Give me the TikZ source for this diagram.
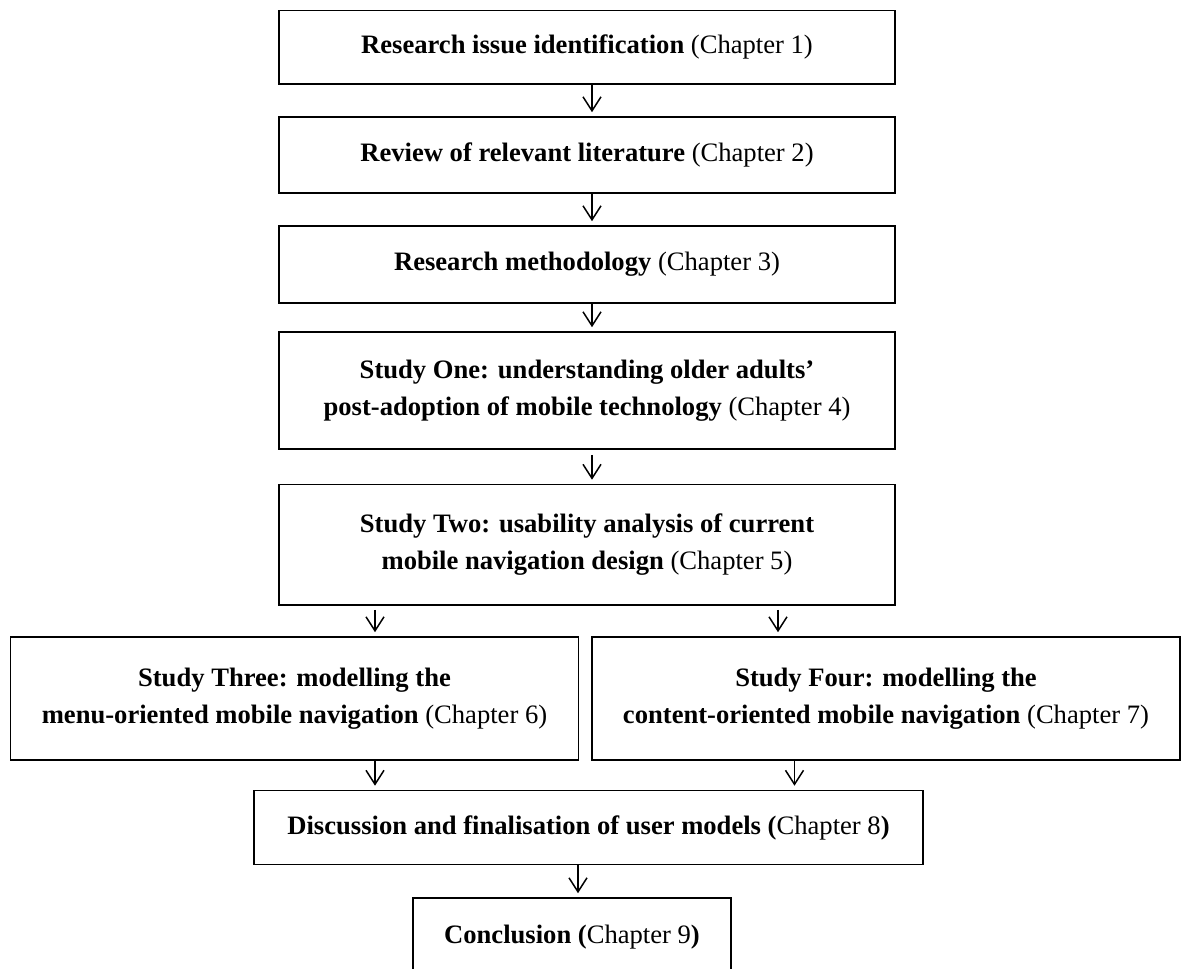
\documentclass[tikz,border=0pt]{standalone}
\usepackage{fontspec}
\setmainfont{Liberation Serif}
\usetikzlibrary{arrows.meta}

\tikzset{
  stagebox/.style={draw=black, line width=1.6pt, rectangle, inner sep=0pt,
    align=center, font=\fontsize{26.6}{37.5}\selectfont},
  flowarrow/.style={line width=1.5pt,
    -{Straight Barb[length=14pt,width=18pt,line width=1.5pt]}, shorten >=4pt}
}

\begin{document}
\begin{tikzpicture}[x=1pt,y=-1pt]
  \useasboundingbox (0,0) rectangle (1184,969);
  \clip (0,0) rectangle (1184,969);

  % chapter stages
  \node[stagebox, minimum width=616pt, minimum height=73.5pt] (b1) at (587,47.25)
    {\textbf{Research issue identification} (Chapter 1)};
  \node[stagebox, minimum width=616pt, minimum height=76pt] (b2) at (587,155)
    {\textbf{Review of relevant literature} (Chapter 2)};
  \node[stagebox, minimum width=616pt, minimum height=77pt] (b3) at (587,264.5)
    {\textbf{Research methodology} (Chapter 3)};
  \node[stagebox, minimum width=616pt, minimum height=117pt] (b4) at (587,390.5)
    {\textbf{Study One: understanding older adults'}\\
     \textbf{post-adoption of mobile technology} (Chapter 4)};
  \node[stagebox, minimum width=616pt, minimum height=120.5pt] (b5) at (587,544.75)
    {\textbf{Study Two: usability analysis of current}\\
     \textbf{mobile navigation design} (Chapter 5)};
  \node[stagebox, minimum width=568pt, minimum height=123pt] (b6) at (294.5,698.5)
    {\textbf{Study Three: modelling the}\\
     \textbf{menu-oriented mobile navigation} (Chapter 6)};
  \node[stagebox, minimum width=588pt, minimum height=123pt] (b7) at (886,698.5)
    {\textbf{Study Four: modelling the}\\
     \textbf{content-oriented mobile navigation} (Chapter 7)};
  \node[stagebox, minimum width=669pt, minimum height=74pt] (b8) at (588.5,827.5)
    {\textbf{Discussion and finalisation of user models (}Chapter 8\textbf{)}};
  \node[stagebox, minimum width=318pt, minimum height=78pt] (b9) at (572,937)
    {\textbf{Conclusion (}Chapter 9\textbf{)}};

  % connectors
  \draw[flowarrow] ([xshift=5pt]b1.south) -- ([xshift=5pt]b2.north);
  \draw[flowarrow] ([xshift=5pt]b2.south) -- ([xshift=5pt]b3.north);
  \draw[flowarrow] ([xshift=5pt]b3.south) -- ([xshift=5pt]b4.north);
  \draw[flowarrow] ([xshift=5pt,yshift=-5pt]b4.south) -- ([xshift=5pt]b5.north);
  \draw[flowarrow] ([xshift=-212pt,yshift=-4pt]b5.south) -- ([xshift=80.5pt]b6.north);
  \draw[flowarrow] ([xshift=191pt,yshift=-4pt]b5.south) -- ([xshift=-108pt]b7.north);
  \draw[flowarrow] ([xshift=80.5pt]b6.south) -- ([xshift=-213.5pt]b8.north);
  \draw[flowarrow] ([xshift=-91.5pt]b7.south) -- ([xshift=206pt]b8.north);
  \draw[flowarrow] ([xshift=-10.5pt]b8.south) -- ([xshift=6pt]b9.north);
\end{tikzpicture}
\end{document}
